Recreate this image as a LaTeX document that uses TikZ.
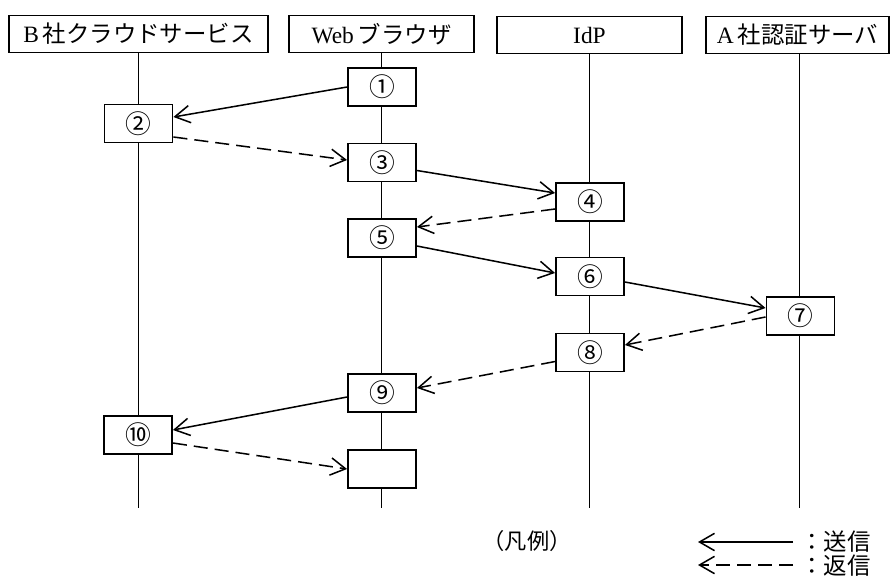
\documentclass[tikz,border=0pt]{standalone}
\usepackage{fontspec}
\setmainfont{Liberation Serif}
\newfontfamily\jpfont{Noto Sans CJK JP}
\usetikzlibrary{arrows.meta, positioning, calc}

\tikzset{
  hdr/.style={draw, line width=1.3pt, fill=white, minimum height=1.12cm, inner sep=0pt,
    font=\fontsize{20}{22}\selectfont},
  actbox/.style={draw, line width=1.3pt, fill=white, minimum width=2.05cm, minimum height=1.14cm,
    inner sep=0pt, font=\jpfont\fontsize{22}{24}\selectfont},
  life/.style={line width=1.2pt},
  msg/.style={line width=1.3pt, -{Straight Barb[length=0.45cm, width=0.52cm, line width=1.3pt]}},
  reply/.style={msg, dash pattern=on 12pt off 6pt}
}

\begin{document}
\begin{tikzpicture}[x=0.03cm, y=-0.03cm]
\useasboundingbox (0,0) rectangle (892,583);

% Participants
\node[hdr, minimum width=7.77cm] (cloud) at (138.5,34) {B\,{\jpfont 社クラウドサービス}};
\node[hdr, minimum width=5.55cm] (browser) at (381.5,34) {Web\,{\jpfont ブラウザ}};
\node[hdr, minimum width=5.55cm] (idp) at (589.5,35) {IdP};
\node[hdr, minimum width=5.49cm] (auth) at (797.5,35) {A\,{\jpfont 社認証サーバ}};

% Lifelines
\coordinate (cloudEnd) at (138.5,508);
\coordinate (browserEnd) at (381.5,508);
\coordinate (idpEnd) at (589.5,508);
\coordinate (authEnd) at (799.5,508);
\draw[life] (cloud.south) -- (cloudEnd);
\draw[life] (browser.south) -- (browserEnd);
\draw[life] (idp.south) -- (idpEnd);
\draw[life] (auth.south -| authEnd) -- (authEnd);

% Steps
\node[actbox] (s1) at (382,87) {①};
\node[actbox] (s2) at (138.5,123.5) {②};
\node[actbox] (s3) at (382,162.5) {③};
\node[actbox] (s4) at (590,202) {④};
\node[actbox] (s5) at (382,238) {⑤};
\node[actbox] (s6) at (590,276.5) {⑥};
\node[actbox] (s7) at (800.5,316) {⑦};
\node[actbox] (s8) at (590,352.5) {⑧};
\node[actbox] (s9) at (382,393) {⑨};
\node[actbox] (s10) at (138,435) {⑩};
\node[actbox] (s11) at (382,469) {};

% Messages
\draw[msg] (s1.west) -- ($(s2.east)+(0,-6.5)$);
\draw[reply] ($(s2.east)+(0,13.5)$) -- ($(s3.west)+(0,-2.5)$);
\draw[msg] ($(s3.east)+(0,8)$) -- ($(s4.west)+(0,-9)$);
\draw[reply] ($(s4.west)+(0,7)$) -- ($(s5.east)+(0,-11)$);
\draw[msg] ($(s5.east)+(0,8)$) -- ($(s6.west)+(0,-3.5)$);
\draw[msg] ($(s6.east)+(0,5.5)$) -- ($(s7.west)+(0,-8)$);
\draw[reply] ($(s7.west)+(0,1)$) -- ($(s8.east)+(0,-7.5)$);
\draw[reply] ($(s8.west)+(0,9)$) -- ($(s9.east)+(0,-5)$);
\draw[msg] ($(s9.west)+(0,4)$) -- ($(s10.east)+(0,-5)$);
\draw[reply] ($(s10.east)+(0,8)$) -- (s11.west);

% Legend
\node[font=\jpfont\fontsize{19}{21}\selectfont] (legend) at (527,541) {（凡例）};
\coordinate (sendR) at (793,542);
\coordinate (sendL) at (698,542);
\coordinate (replyR) at (793,565);
\coordinate (replyL) at (698,565);
\draw[msg] (sendR) -- (sendL);
\draw[reply] (replyR) -- (replyL);
\node[anchor=west, inner sep=0pt, font=\jpfont\fontsize{20}{22}\selectfont] (sendTxt) at (800,542) {：送信};
\node[anchor=west, inner sep=0pt, font=\jpfont\fontsize{20}{22}\selectfont] (replyTxt) at (800,566) {：返信};
\end{tikzpicture}
\end{document}
